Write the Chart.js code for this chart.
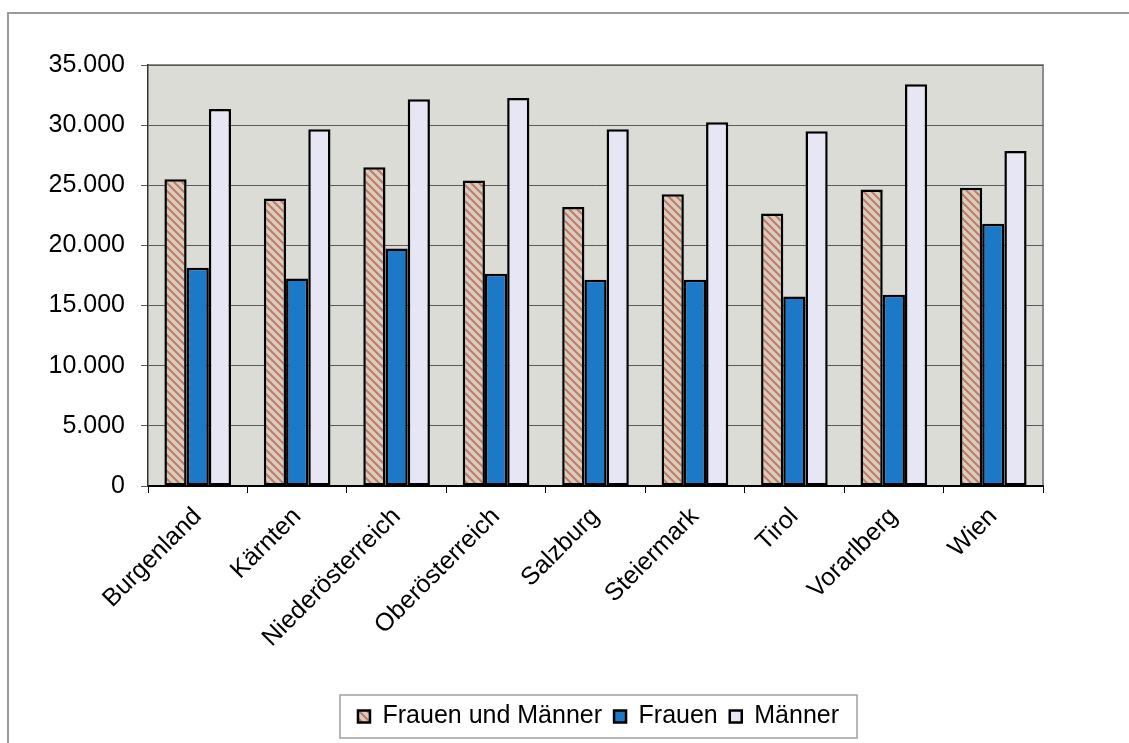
<!DOCTYPE html>
<html>
<head>
<meta charset="utf-8">
<script src="https://cdn.jsdelivr.net/npm/chart.js@4.4.0/dist/chart.umd.min.js"></script>
<style>
  html, body { margin: 0; padding: 0; background: #fff; }
  canvas { display: block; }
</style>
</head>
<body>
<canvas id="myChart" width="1129" height="743"></canvas>
<script>
const regions = ["Burgenland", "Kärnten", "Niederösterreich", "Oberösterreich", "Salzburg", "Steiermark", "Tirol", "Vorarlberg", "Wien"];
const total = [25500, 23900, 26500, 25400, 23200, 24250, 22650, 24650, 24800];
const women = [18150, 17250, 19750, 17650, 17150, 17150, 15750, 15900, 21800];
const men = [31350, 29650, 32150, 32250, 29650, 30250, 29500, 33400, 27850];
const seriesNames = ["Frauen und Männer", "Frauen", "Männer"];

const FONT = "Liberation Sans, Arial";

function hatch() {
    const c = document.createElement('canvas');
    c.width = 8;
    c.height = 8;
    const g = c.getContext('2d');
    g.fillStyle = "#d9cdbd";
    g.fillRect(0, 0, 8, 8);
    g.strokeStyle = "#bf7a68";
    g.lineWidth = 2;
    g.beginPath();
    g.moveTo(-2, -2); g.lineTo(10, 10);
    g.moveTo(-6, 2); g.lineTo(6, 14);
    g.moveTo(2, -6); g.lineTo(14, 6);
    g.stroke();
    return g.createPattern(c, 'repeat');
}

function dots(v) {
    return String(v).replace(/\B(?=(\d{3})+(?!\d))/g, ".");
}

const frame = {
    id: 'frame',
    afterLayout(chart) {
        // legend box sits right of the canvas centre in the original
        chart.legend.left += 72;
        chart.legend.right += 72;
    },
    beforeDraw(chart) {
        const ctx = chart.ctx;
        const a = chart.chartArea;
        ctx.save();
        ctx.fillStyle = "#fff";
        ctx.fillRect(0, 0, chart.width, chart.height);
        ctx.strokeStyle = "#9a9a9a";
        ctx.lineWidth = 2;
        ctx.beginPath();
        ctx.moveTo(8, chart.height);
        ctx.lineTo(8, 13);
        ctx.lineTo(chart.width, 13);
        ctx.stroke();
        ctx.fillStyle = "#dcdcd6";
        ctx.fillRect(a.left, a.top, a.right - a.left, a.bottom - a.top);
        ctx.strokeStyle = "#8c8c8c";
        ctx.lineWidth = 2;
        ctx.beginPath();
        ctx.moveTo(a.left, a.top);
        ctx.lineTo(a.right, a.top);
        ctx.lineTo(a.right, a.bottom);
        ctx.stroke();
        ctx.restore();
    },
    afterDraw(chart) {
        const boxes = chart.legend.legendHitBoxes;
        if (!boxes || !boxes.length) return;
        const l = Math.min(...boxes.map(b => b.left)) - 18;
        const r = Math.max(...boxes.map(b => b.left + b.width)) + 18;
        const t = boxes[0].top - 9;
        const b = boxes[0].top + boxes[0].height + 9;
        const ctx = chart.ctx;
        ctx.save();
        ctx.strokeStyle = "#a0a0a0";
        ctx.lineWidth = 1.5;
        ctx.strokeRect(l, t, r - l, b - t);
        ctx.restore();
    }
};

window.onload = () => {
    const data = {
        labels: regions,
        datasets: [
            { label: seriesNames[0], data: total, backgroundColor: hatch() },
            { label: seriesNames[1], data: women, backgroundColor: "#1b79c7" },
            { label: seriesNames[2], data: men, backgroundColor: "#e6e6f4" }
        ]
    };
    data.datasets.forEach(d => {
        d.borderColor = "#000";
        d.borderWidth = 2.5;
        d.borderSkipped = false;
        d.categoryPercentage = 0.67;
        d.barPercentage = 1.0;
    });

    const config = {
        type: "bar",
        data: data,
        plugins: [frame],
        options: {
            responsive: false,
            animation: false,
            devicePixelRatio: 1,
            layout: { padding: { left: 10, right: 86, top: 65, bottom: 4 } },
            plugins: {
                tooltip: { enabled: false },
                legend: {
                    position: "bottom",
                    labels: {
                        color: "#000",
                        font: { family: FONT, size: 25 },
                        boxWidth: 12,
                        boxHeight: 12,
                        padding: 12
                    }
                }
            },
            scales: {
                x: {
                    afterFit: s => { s.height = 206; },
                    grid: { display: true, drawOnChartArea: false, color: "#000", tickLength: 7, offset: true },
                    border: { color: "#000", width: 2 },
                    ticks: {
                        color: "#000",
                        font: { family: FONT, size: 25 },
                        minRotation: 45,
                        maxRotation: 45,
                        padding: 9
                    }
                },
                y: {
                    min: 0,
                    max: 35000,
                    afterFit: s => { s.width = 138; },
                    grid: { color: "#5a5a5a", lineWidth: 1, tickLength: 7 },
                    border: { color: "#333", width: 1.5 },
                    ticks: {
                        stepSize: 5000,
                        color: "#000",
                        padding: 16,
                        font: { family: FONT, size: 25 },
                        callback: v => dots(v)
                    }
                }
            }
        }
    };

    const ctx = document.getElementById('myChart').getContext('2d');
    new Chart(ctx, config);
};
</script>
</body>
</html>
